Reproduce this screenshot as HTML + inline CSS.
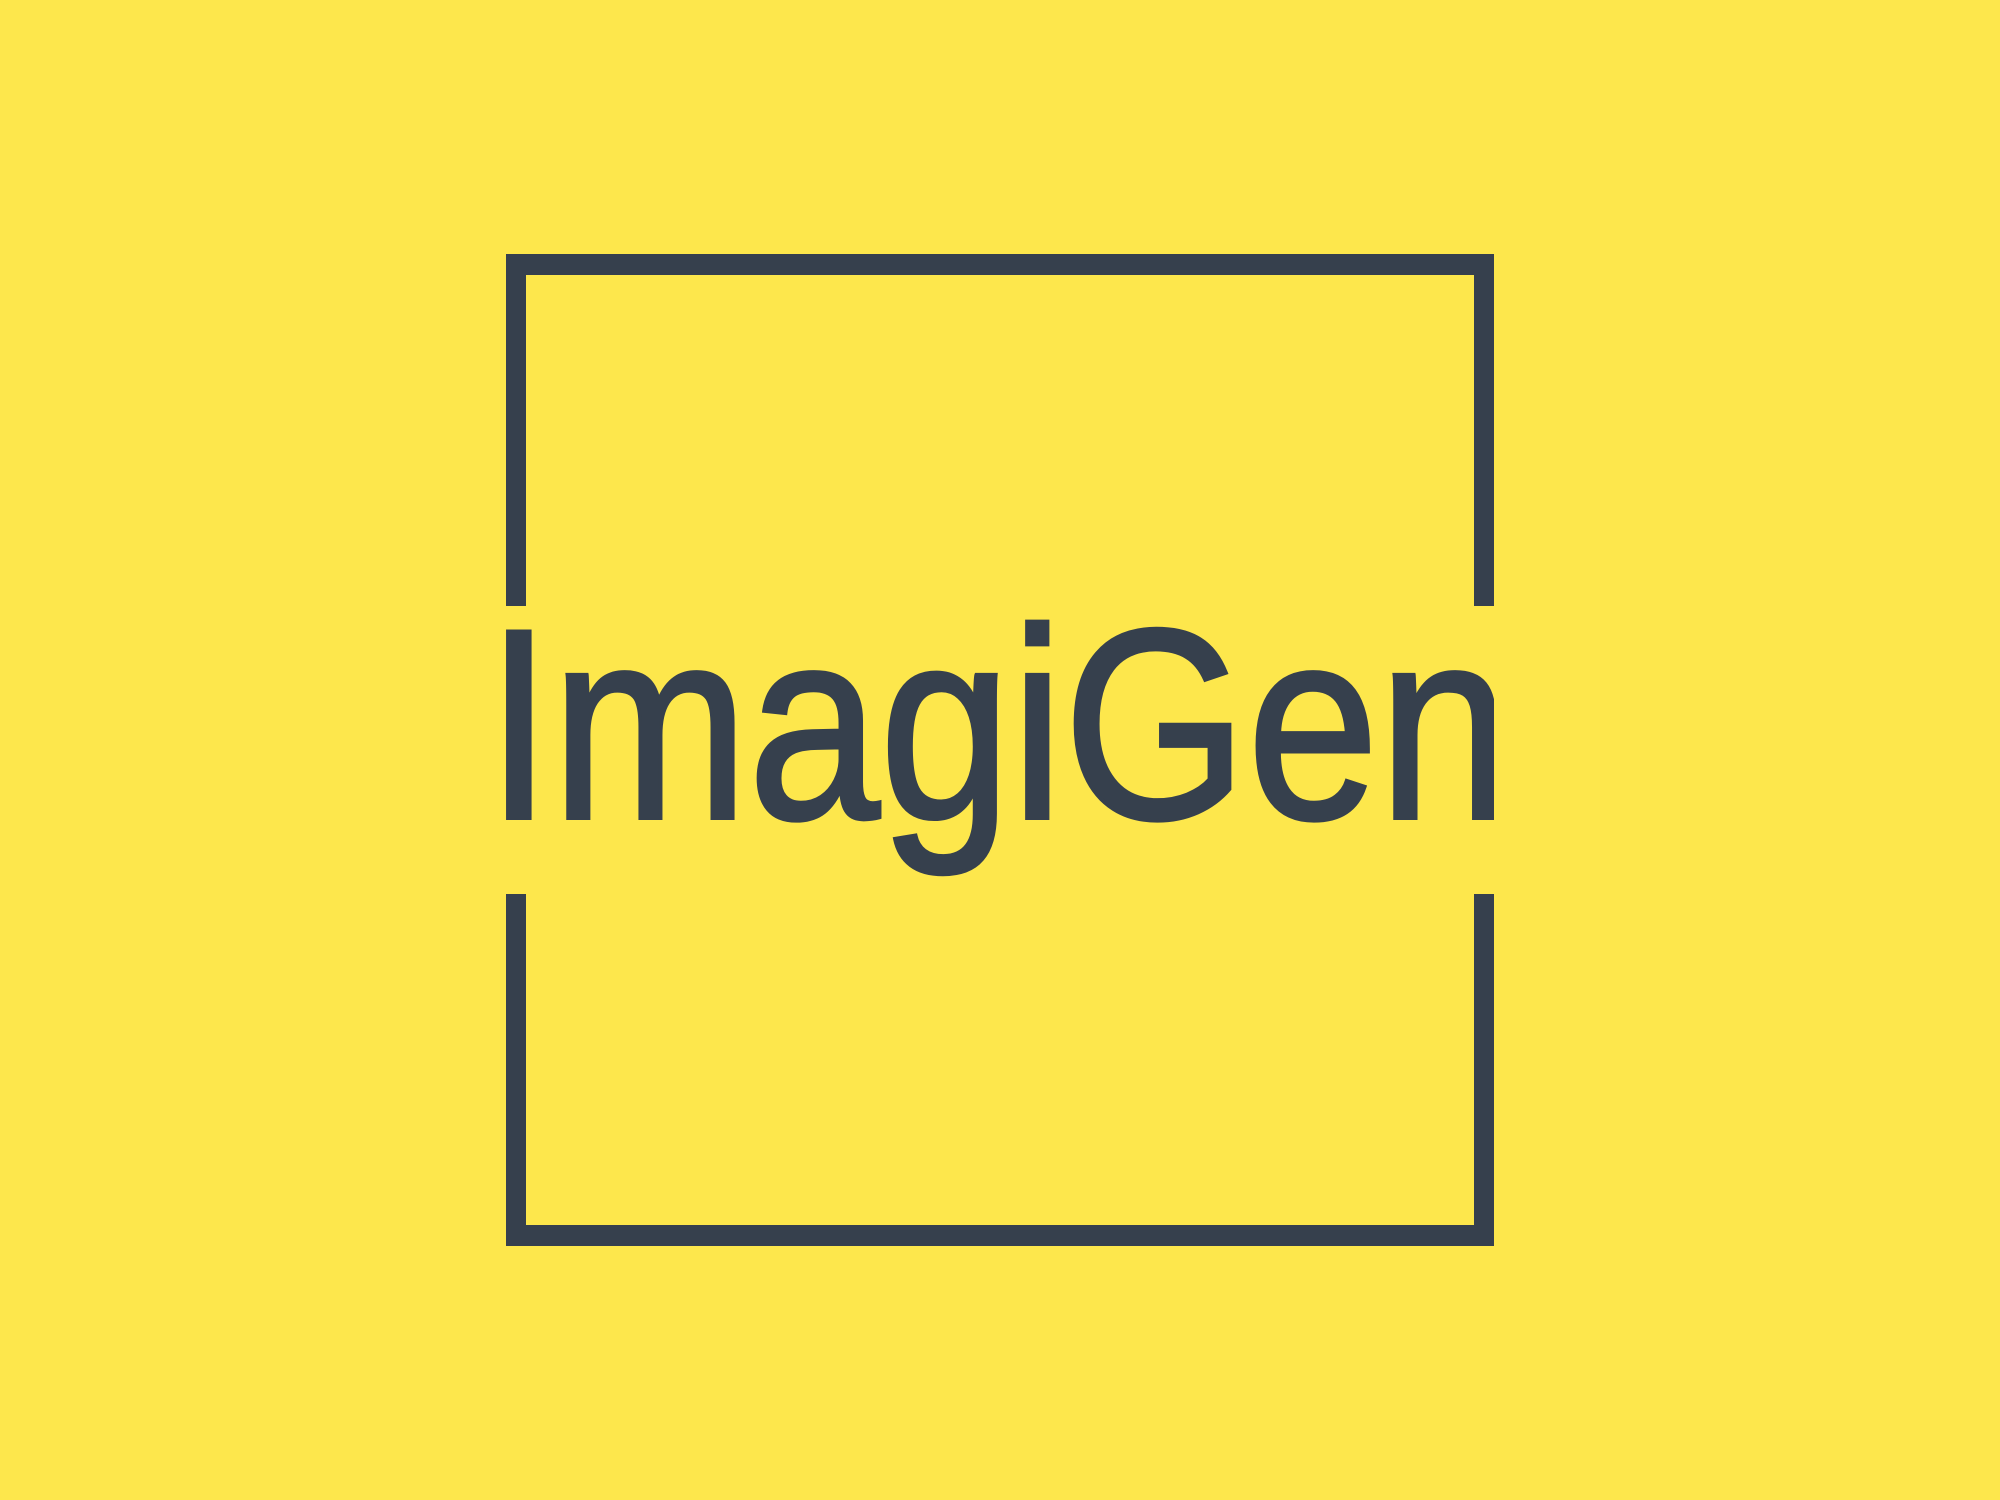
<!DOCTYPE html>
<html>
<head>
<meta charset="utf-8">
<style>
  html,body{margin:0;padding:0;background:#FDE74C;}
  svg{display:block;}
</style>
</head>
<body>
<svg width="2000" height="1500" viewBox="0 0 2000 1500" xmlns="http://www.w3.org/2000/svg">
  <defs>
    <clipPath id="textclip"><rect x="0" y="0" width="1494" height="1500"/></clipPath>
  </defs>
  <rect x="0" y="0" width="2000" height="1500" fill="#FDE74C"/>
  <g fill="#36404D">
    <rect x="506" y="254" width="988" height="21"/>
    <rect x="506" y="1225" width="988" height="21"/>
    <rect x="506" y="254" width="20" height="352"/>
    <rect x="506" y="894" width="20" height="352"/>
    <rect x="1474" y="254" width="20" height="352"/>
    <rect x="1474" y="894" width="20" height="352"/>
  </g>
  <text clip-path="url(#textclip)" x="486" y="818" font-family="Liberation Sans, sans-serif" font-size="271" fill="#36404D" stroke="#36404D" stroke-width="4" textLength="1024" lengthAdjust="spacingAndGlyphs">ImagiGen</text>
</svg>
</body>
</html>
